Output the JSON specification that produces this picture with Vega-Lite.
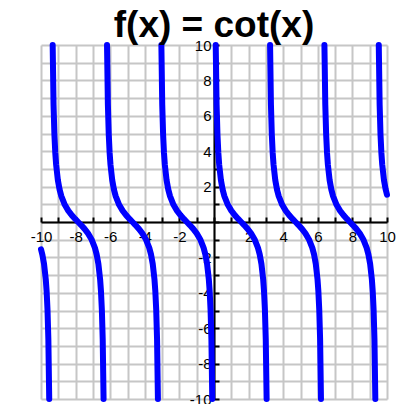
{
  "$schema": "https://vega.github.io/schema/vega-lite/v6.json",
  "autosize": "none",
  "width": 346,
  "height": 354,
  "padding": {"left": 41, "top": 45, "right": 15, "bottom": 5},
  "background": "white",
  "title": {
    "text": "f(x) = cot(x)",
    "font": "Liberation Sans",
    "fontSize": 37,
    "fontWeight": "bold",
    "color": "black",
    "anchor": "middle",
    "baseline": "alphabetic",
    "offset": 8,
    "dy": 44
  },
  "config": {
    "view": {"stroke": null},
    "axis": {
      "labelFont": "Liberation Sans",
      "labelFontSize": 15,
      "labelColor": "black"
    }
  },
  "data": {
    "values": [
      {"b": 0, "x": -10, "y": -1.542},
      {"b": 0, "x": -9.9248, "y": -1.83},
      {"b": 0, "x": -9.8248, "y": -2.365},
      {"b": 0, "x": -9.7248, "y": -3.233},
      {"b": 0, "x": -9.6748, "y": -3.916},
      {"b": 0, "x": -9.6248, "y": -4.933},
      {"b": 0, "x": -9.5748, "y": -6.617},
      {"b": 0, "x": -9.5245, "y": -10},

      {"b": 1, "x": -9.3251, "y": 10},
      {"b": 1, "x": -9.2748, "y": 6.617},
      {"b": 1, "x": -9.2248, "y": 4.933},
      {"b": 1, "x": -9.1748, "y": 3.916},
      {"b": 1, "x": -9.1248, "y": 3.233},
      {"b": 1, "x": -9.0248, "y": 2.365},
      {"b": 1, "x": -8.9248, "y": 1.83},
      {"b": 1, "x": -8.8248, "y": 1.462},
      {"b": 1, "x": -8.6248, "y": 0.971},
      {"b": 1, "x": -8.4248, "y": 0.642},
      {"b": 1, "x": -8.2248, "y": 0.389},
      {"b": 1, "x": -8.0248, "y": 0.1725},
      {"b": 1, "x": -7.854, "y": 0},
      {"b": 1, "x": -7.6832, "y": -0.1725},
      {"b": 1, "x": -7.4832, "y": -0.389},
      {"b": 1, "x": -7.2832, "y": -0.642},
      {"b": 1, "x": -7.0832, "y": -0.971},
      {"b": 1, "x": -6.8832, "y": -1.462},
      {"b": 1, "x": -6.7832, "y": -1.83},
      {"b": 1, "x": -6.6832, "y": -2.365},
      {"b": 1, "x": -6.5832, "y": -3.233},
      {"b": 1, "x": -6.5332, "y": -3.916},
      {"b": 1, "x": -6.4832, "y": -4.933},
      {"b": 1, "x": -6.4332, "y": -6.617},
      {"b": 1, "x": -6.3829, "y": -10},

      {"b": 2, "x": -6.1835, "y": 10},
      {"b": 2, "x": -6.1332, "y": 6.617},
      {"b": 2, "x": -6.0832, "y": 4.933},
      {"b": 2, "x": -6.0332, "y": 3.916},
      {"b": 2, "x": -5.9832, "y": 3.233},
      {"b": 2, "x": -5.8832, "y": 2.365},
      {"b": 2, "x": -5.7832, "y": 1.83},
      {"b": 2, "x": -5.6832, "y": 1.462},
      {"b": 2, "x": -5.4832, "y": 0.971},
      {"b": 2, "x": -5.2832, "y": 0.642},
      {"b": 2, "x": -5.0832, "y": 0.389},
      {"b": 2, "x": -4.8832, "y": 0.1725},
      {"b": 2, "x": -4.7124, "y": 0},
      {"b": 2, "x": -4.5416, "y": -0.1725},
      {"b": 2, "x": -4.3416, "y": -0.389},
      {"b": 2, "x": -4.1416, "y": -0.642},
      {"b": 2, "x": -3.9416, "y": -0.971},
      {"b": 2, "x": -3.7416, "y": -1.462},
      {"b": 2, "x": -3.6416, "y": -1.83},
      {"b": 2, "x": -3.5416, "y": -2.365},
      {"b": 2, "x": -3.4416, "y": -3.233},
      {"b": 2, "x": -3.3916, "y": -3.916},
      {"b": 2, "x": -3.3416, "y": -4.933},
      {"b": 2, "x": -3.2916, "y": -6.617},
      {"b": 2, "x": -3.2413, "y": -10},

      {"b": 3, "x": -3.0419, "y": 10},
      {"b": 3, "x": -2.9916, "y": 6.617},
      {"b": 3, "x": -2.9416, "y": 4.933},
      {"b": 3, "x": -2.8916, "y": 3.916},
      {"b": 3, "x": -2.8416, "y": 3.233},
      {"b": 3, "x": -2.7416, "y": 2.365},
      {"b": 3, "x": -2.6416, "y": 1.83},
      {"b": 3, "x": -2.5416, "y": 1.462},
      {"b": 3, "x": -2.3416, "y": 0.971},
      {"b": 3, "x": -2.1416, "y": 0.642},
      {"b": 3, "x": -1.9416, "y": 0.389},
      {"b": 3, "x": -1.7416, "y": 0.1725},
      {"b": 3, "x": -1.5708, "y": 0},
      {"b": 3, "x": -1.4, "y": -0.1725},
      {"b": 3, "x": -1.2, "y": -0.389},
      {"b": 3, "x": -1.0, "y": -0.642},
      {"b": 3, "x": -0.8, "y": -0.971},
      {"b": 3, "x": -0.6, "y": -1.462},
      {"b": 3, "x": -0.5, "y": -1.83},
      {"b": 3, "x": -0.4, "y": -2.365},
      {"b": 3, "x": -0.3, "y": -3.233},
      {"b": 3, "x": -0.25, "y": -3.916},
      {"b": 3, "x": -0.2, "y": -4.933},
      {"b": 3, "x": -0.15, "y": -6.617},
      {"b": 3, "x": -0.0997, "y": -10},

      {"b": 4, "x": 0.0997, "y": 10},
      {"b": 4, "x": 0.15, "y": 6.617},
      {"b": 4, "x": 0.2, "y": 4.933},
      {"b": 4, "x": 0.25, "y": 3.916},
      {"b": 4, "x": 0.3, "y": 3.233},
      {"b": 4, "x": 0.4, "y": 2.365},
      {"b": 4, "x": 0.5, "y": 1.83},
      {"b": 4, "x": 0.6, "y": 1.462},
      {"b": 4, "x": 0.8, "y": 0.971},
      {"b": 4, "x": 1.0, "y": 0.642},
      {"b": 4, "x": 1.2, "y": 0.389},
      {"b": 4, "x": 1.4, "y": 0.1725},
      {"b": 4, "x": 1.5708, "y": 0},
      {"b": 4, "x": 1.7416, "y": -0.1725},
      {"b": 4, "x": 1.9416, "y": -0.389},
      {"b": 4, "x": 2.1416, "y": -0.642},
      {"b": 4, "x": 2.3416, "y": -0.971},
      {"b": 4, "x": 2.5416, "y": -1.462},
      {"b": 4, "x": 2.6416, "y": -1.83},
      {"b": 4, "x": 2.7416, "y": -2.365},
      {"b": 4, "x": 2.8416, "y": -3.233},
      {"b": 4, "x": 2.8916, "y": -3.916},
      {"b": 4, "x": 2.9416, "y": -4.933},
      {"b": 4, "x": 2.9916, "y": -6.617},
      {"b": 4, "x": 3.0419, "y": -10},

      {"b": 5, "x": 3.2413, "y": 10},
      {"b": 5, "x": 3.2916, "y": 6.617},
      {"b": 5, "x": 3.3416, "y": 4.933},
      {"b": 5, "x": 3.3916, "y": 3.916},
      {"b": 5, "x": 3.4416, "y": 3.233},
      {"b": 5, "x": 3.5416, "y": 2.365},
      {"b": 5, "x": 3.6416, "y": 1.83},
      {"b": 5, "x": 3.7416, "y": 1.462},
      {"b": 5, "x": 3.9416, "y": 0.971},
      {"b": 5, "x": 4.1416, "y": 0.642},
      {"b": 5, "x": 4.3416, "y": 0.389},
      {"b": 5, "x": 4.5416, "y": 0.1725},
      {"b": 5, "x": 4.7124, "y": 0},
      {"b": 5, "x": 4.8832, "y": -0.1725},
      {"b": 5, "x": 5.0832, "y": -0.389},
      {"b": 5, "x": 5.2832, "y": -0.642},
      {"b": 5, "x": 5.4832, "y": -0.971},
      {"b": 5, "x": 5.6832, "y": -1.462},
      {"b": 5, "x": 5.7832, "y": -1.83},
      {"b": 5, "x": 5.8832, "y": -2.365},
      {"b": 5, "x": 5.9832, "y": -3.233},
      {"b": 5, "x": 6.0332, "y": -3.916},
      {"b": 5, "x": 6.0832, "y": -4.933},
      {"b": 5, "x": 6.1332, "y": -6.617},
      {"b": 5, "x": 6.1835, "y": -10},

      {"b": 6, "x": 6.3829, "y": 10},
      {"b": 6, "x": 6.4332, "y": 6.617},
      {"b": 6, "x": 6.4832, "y": 4.933},
      {"b": 6, "x": 6.5332, "y": 3.916},
      {"b": 6, "x": 6.5832, "y": 3.233},
      {"b": 6, "x": 6.6832, "y": 2.365},
      {"b": 6, "x": 6.7832, "y": 1.83},
      {"b": 6, "x": 6.8832, "y": 1.462},
      {"b": 6, "x": 7.0832, "y": 0.971},
      {"b": 6, "x": 7.2832, "y": 0.642},
      {"b": 6, "x": 7.4832, "y": 0.389},
      {"b": 6, "x": 7.6832, "y": 0.1725},
      {"b": 6, "x": 7.854, "y": 0},
      {"b": 6, "x": 8.0248, "y": -0.1725},
      {"b": 6, "x": 8.2248, "y": -0.389},
      {"b": 6, "x": 8.4248, "y": -0.642},
      {"b": 6, "x": 8.6248, "y": -0.971},
      {"b": 6, "x": 8.8248, "y": -1.462},
      {"b": 6, "x": 8.9248, "y": -1.83},
      {"b": 6, "x": 9.0248, "y": -2.365},
      {"b": 6, "x": 9.1248, "y": -3.233},
      {"b": 6, "x": 9.1748, "y": -3.916},
      {"b": 6, "x": 9.2248, "y": -4.933},
      {"b": 6, "x": 9.2748, "y": -6.617},
      {"b": 6, "x": 9.3251, "y": -10},

      {"b": 7, "x": 9.5245, "y": 10},
      {"b": 7, "x": 9.5748, "y": 6.617},
      {"b": 7, "x": 9.6248, "y": 4.933},
      {"b": 7, "x": 9.6748, "y": 3.916},
      {"b": 7, "x": 9.7248, "y": 3.233},
      {"b": 7, "x": 9.8248, "y": 2.365},
      {"b": 7, "x": 9.9248, "y": 1.83},
      {"b": 7, "x": 10, "y": 1.542}
    ]
  },
  "layer": [
    {
      "mark": {"type": "point", "opacity": 0},
      "encoding": {
        "x": {
          "field": "x",
          "type": "quantitative",
          "scale": {"domain": [-10, 10], "nice": false, "zero": false},
          "axis": {
            "orient": "top",
            "values": [-10, -9, -8, -7, -6, -5, -4, -3, -2, -1, 0, 1, 2, 3, 4, 5, 6, 7, 8, 9, 10],
            "title": null,
            "grid": true,
            "gridColor": "#c6c6c6",
            "gridWidth": 2,
            "gridOpacity": 1,
            "domain": false,
            "ticks": false,
            "labels": false
          }
        },
        "y": {
          "field": "y",
          "type": "quantitative",
          "scale": {"domain": [-10, 10], "nice": false, "zero": false},
          "axis": {
            "orient": "right",
            "values": [-10, -9, -8, -7, -6, -5, -4, -3, -2, -1, 0, 1, 2, 3, 4, 5, 6, 7, 8, 9, 10],
            "title": null,
            "grid": true,
            "gridColor": "#c6c6c6",
            "gridWidth": 2,
            "gridOpacity": 1,
            "domain": false,
            "ticks": false,
            "labels": false
          }
        }
      }
    },
    {
      "mark": {
        "type": "line",
        "color": "#0000ff",
        "strokeWidth": 6,
        "strokeCap": "round",
        "strokeJoin": "round",
        "clip": false
      },
      "encoding": {
        "detail": {"field": "b", "type": "nominal"},
        "x": {
          "field": "x",
          "type": "quantitative",
          "scale": {"domain": [-10, 10], "nice": false, "zero": false},
          "axis": {
            "orient": "bottom",
            "offset": -177,
            "values": [-10, -9, -8, -7, -6, -5, -4, -3, -2, -1, 0, 1, 2, 3, 4, 5, 6, 7, 8, 9, 10],
            "labelExpr": "datum.value % 2 == 0 && datum.value != 0 ? '' + datum.value : ''",
            "title": null,
            "grid": false,
            "domainColor": "black",
            "domainWidth": 2,
            "tickColor": "black",
            "tickWidth": 2,
            "tickSize": -5,
            "labelPadding": 12,
            "labelOverlap": false,
            "labelFlush": false
          }
        },
        "y": {
          "field": "y",
          "type": "quantitative",
          "scale": {"domain": [-10, 10], "nice": false, "zero": false},
          "axis": {
            "orient": "left",
            "offset": -173,
            "values": [-10, -9, -8, -7, -6, -5, -4, -3, -2, -1, 0, 1, 2, 3, 4, 5, 6, 7, 8, 9, 10],
            "labelExpr": "datum.value % 2 == 0 && datum.value != 0 ? '' + datum.value : ''",
            "title": null,
            "grid": false,
            "domainColor": "black",
            "domainWidth": 2,
            "tickColor": "black",
            "tickWidth": 2,
            "tickSize": -5,
            "labelPadding": 8,
            "labelOverlap": false,
            "labelFlush": false,
            "labelBaseline": "middle"
          }
        }
      }
    }
  ],
  "resolve": {"axis": {"x": "independent", "y": "independent"}}
}
